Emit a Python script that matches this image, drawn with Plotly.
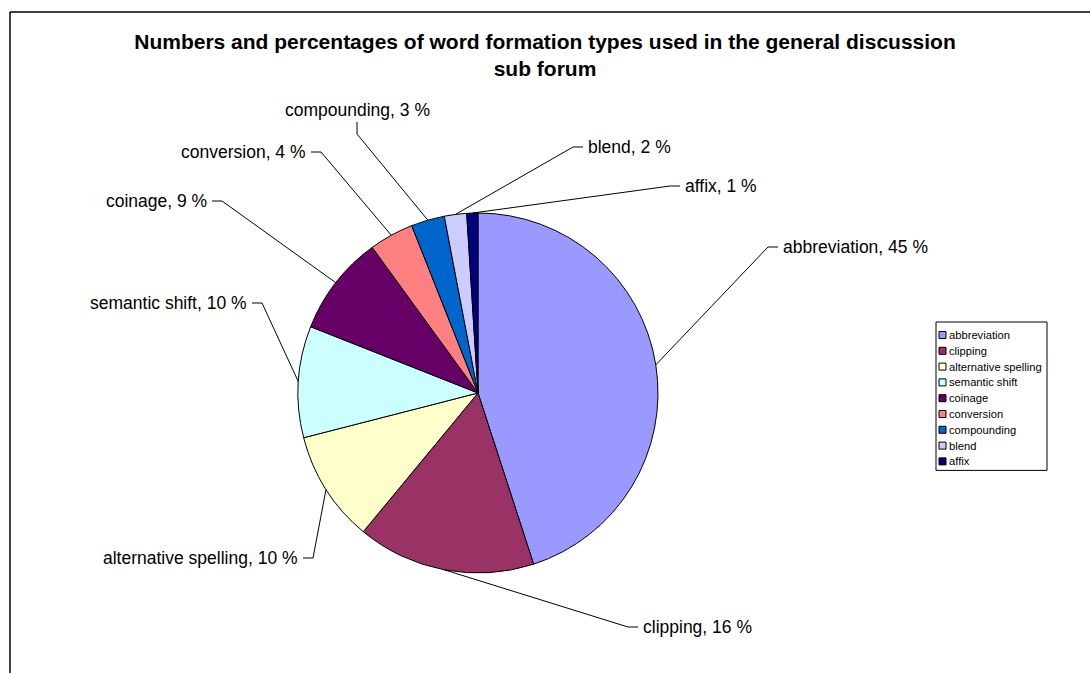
import math
import plotly.graph_objects as go

# ---------------- data ----------------
categories = ["abbreviation", "clipping", "alternative spelling", "semantic shift",
              "coinage", "conversion", "compounding", "blend", "affix"]
percentages = [45, 16, 10, 10, 9, 4, 3, 2, 1]
colors = ["#9999FF", "#993366", "#FFFFCC", "#CCFFFF", "#660066",
          "#FF8080", "#0066CC", "#CCCCFF", "#000080"]
title_lines = ["Numbers and percentages of word formation types used in the general discussion",
               "sub forum"]

# ---------------- layout config (pixels) ----------------
W, H = 1090, 673
CX, CY, R = 478, 393, 180          # pie centre and radius
FONT = "Liberation Sans, Arial, sans-serif"
LABEL_SIZE = 17.5
# label anchor (x, y) and the side where the leader line attaches
label_place = [
    (781, 247, "left"),     # abbreviation
    (641, 627, "left"),     # clipping
    (300, 558, "right"),    # alternative spelling
    (249, 303, "right"),    # semantic shift
    (209, 201, "right"),    # coinage
    (308, 152, "right"),    # conversion
    (357, 110, "bottom"),   # compounding
    (586, 147, "left"),     # blend
    (683, 186, "left"),     # affix
]
LEG_X0, LEG_Y0, LEG_X1 = 936, 322, 1047
LEG_FIRST = 13
LEG_DY = 15.8
LEG_FONT = 11.2


def px(x):
    return x / W


def py(y):
    return 1 - y / H


fig = go.Figure()
fig.add_trace(go.Pie(
    labels=categories,
    values=percentages,
    sort=False,
    direction="clockwise",
    rotation=0,
    marker=dict(colors=colors, line=dict(color="black", width=1)),
    textinfo="none",
    hovertemplate="%{label}: %{value} %<extra></extra>",
    showlegend=False,
    domain=dict(x=[px(CX - R), px(CX + R)], y=[py(CY + R), py(CY - R)]),
))

shapes = []
annotations = []

# data labels with leader lines, start point derived from slice mid-angles
total = sum(percentages)
cum = 0
for cat, val, (lx, ly, side) in zip(categories, percentages, label_place):
    mid = (cum + val / 2) / total
    cum += val
    th = 2 * math.pi * mid
    sx, sy = CX + R * math.sin(th), CY - R * math.cos(th)
    text = f"{cat}, {val} %"
    if side == "left":
        ex, ey = lx - 13, ly
        tx, ty = lx - 3, ly
        xa = "left"
    elif side == "right":
        ex, ey = lx + 13, ly
        tx, ty = lx + 3, ly
        xa = "right"
    else:
        ex, ey = lx, ly + 24
        tx, ty = lx, ly + 12
        xa = "center"
    shapes.append(dict(
        type="path", xref="paper", yref="paper",
        path=f"M {px(sx)},{py(sy)} L {px(ex)},{py(ey)} L {px(tx)},{py(ty)}",
        line=dict(color="black", width=1),
    ))
    annotations.append(dict(
        text=text, x=px(lx), y=py(ly), xref="paper", yref="paper",
        xanchor=xa, yanchor="middle", showarrow=False,
        font=dict(family=FONT, size=LABEL_SIZE, color="black"),
    ))

# legend (drawn from the category / colour lists)
leg_y1 = LEG_Y0 + LEG_FIRST + LEG_DY * (len(categories) - 1) + 9
shapes.append(dict(type="rect", xref="paper", yref="paper",
                   x0=px(LEG_X0), x1=px(LEG_X1), y0=py(LEG_Y0), y1=py(leg_y1),
                   line=dict(color="black", width=1), fillcolor="white"))
for i, (cat, col) in enumerate(zip(categories, colors)):
    yc = LEG_Y0 + LEG_FIRST + i * LEG_DY
    shapes.append(dict(type="rect", xref="paper", yref="paper",
                       x0=px(LEG_X0 + 3), x1=px(LEG_X0 + 10),
                       y0=py(yc - 3.5), y1=py(yc + 3.5),
                       line=dict(color="black", width=1), fillcolor=col))
    annotations.append(dict(
        text=cat, x=px(LEG_X0 + 10.5), y=py(yc), xref="paper", yref="paper",
        xanchor="left", yanchor="middle", showarrow=False,
        font=dict(family=FONT, size=LEG_FONT, color="black"),
    ))

# chart-area border (left and top edges visible)
shapes.append(dict(type="line", xref="paper", yref="paper",
                   x0=px(10), x1=px(10), y0=0, y1=py(12),
                   line=dict(color="black", width=1.5)))
shapes.append(dict(type="line", xref="paper", yref="paper",
                   x0=px(10), x1=1, y0=py(12), y1=py(12),
                   line=dict(color="black", width=1.5)))

fig.update_layout(
    width=W, height=H,
    margin=dict(l=0, r=0, t=0, b=0),
    paper_bgcolor="white",
    plot_bgcolor="white",
    title=dict(
        text="<b>" + "<br>".join(title_lines) + "</b>",
        x=545 / W, xanchor="center",
        y=py(49), yanchor="middle",
        font=dict(family=FONT, size=21, color="black"),
    ),
    shapes=shapes,
    annotations=annotations,
    showlegend=False,
)

fig.write_html("out.html")
